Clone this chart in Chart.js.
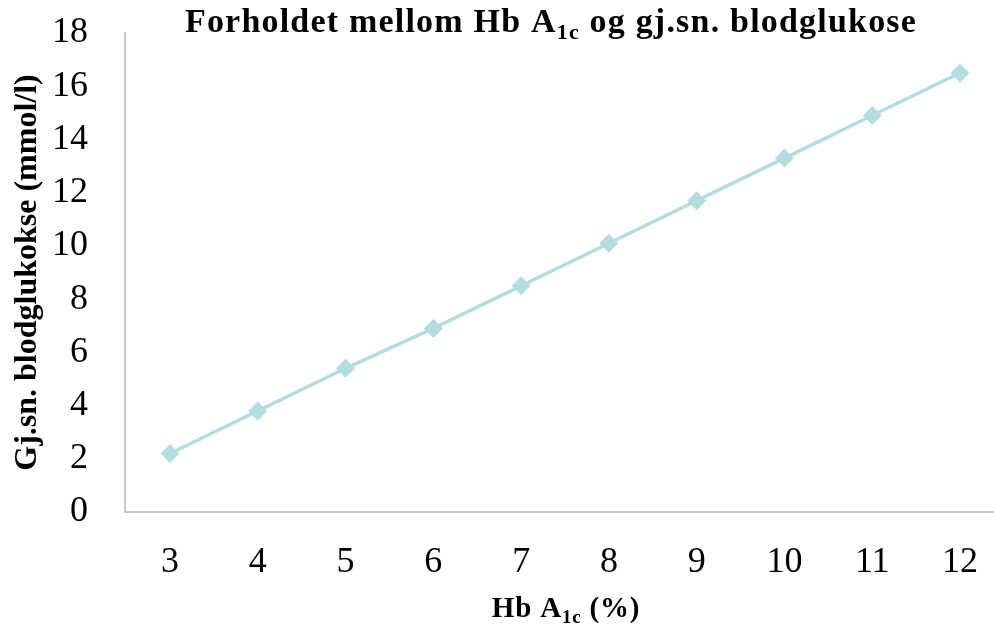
<!DOCTYPE html>
<html>
<head>
<meta charset="utf-8">
<script src="https://cdn.jsdelivr.net/npm/chart.js@4"></script>
<style>
html,body{margin:0;padding:0;background:#fff;}
#wrap{width:994px;height:629px;position:relative;}
</style>
</head>
<body>
<div id="wrap"><canvas id="c" width="994" height="629"></canvas></div>
<script>
const hbA1c = [3, 4, 5, 6, 7, 8, 9, 10, 11, 12];
const glucose = [2.2, 3.8, 5.4, 6.9, 8.5, 10.1, 11.7, 13.3, 14.9, 16.5];
const yTicks = [0, 2, 4, 6, 8, 10, 12, 14, 16, 18];
const titleParts = [["Forholdet mellom Hb A", false], ["1c", true], [" og gj.sn. blodglukose", false]];
const xTitleParts = [["Hb A", false], ["1c", true], [" (%)", false]];
const yTitle = "Gj.sn. blodglukokse (mmol/l)";

const FONT = "'Liberation Serif', 'Times New Roman', serif";
const X_MIN = 2.487, X_MAX = 12.376;

function drawParts(ctx, parts, cx, cy, size, spacing) {
  const subSize = Math.round(size * 0.65);
  ctx.letterSpacing = spacing + "px";
  let total = 0;
  const w = parts.map(([t, sub]) => {
    ctx.font = "bold " + (sub ? subSize : size) + "px " + FONT;
    const m = ctx.measureText(t).width;
    total += m;
    return m;
  });
  let x = cx - total / 2;
  ctx.textBaseline = "alphabetic";
  ctx.textAlign = "left";
  ctx.fillStyle = "#000";
  parts.forEach(([t, sub], i) => {
    ctx.font = "bold " + (sub ? subSize : size) + "px " + FONT;
    ctx.fillText(t, x, cy + (sub ? size * 0.2 : 0));
    x += w[i];
  });
  ctx.letterSpacing = "0px";
}

const textPlugin = {
  id: 'richText',
  afterDraw(chart) {
    const ctx = chart.ctx;
    ctx.save();
    drawParts(ctx, titleParts, 551, 32, 34, 1.2);
    drawParts(ctx, xTitleParts, 566, 617, 29, 0.8);
    ctx.restore();
  }
};

new Chart(document.getElementById('c'), {
  type: 'line',
  data: {
    datasets: [{
      data: hbA1c.map((x, i) => ({x: x, y: glucose[i]})),
      borderColor: '#b3dde0',
      backgroundColor: '#b3dde0',
      borderWidth: 3.5,
      pointStyle: 'rectRot',
      pointRadius: 9.5,
      pointHoverRadius: 9.5,
      pointBorderWidth: 0,
      pointBackgroundColor: '#b3dde0',
      clip: false,
      tension: 0
    }]
  },
  options: {
    responsive: false,
    animation: false,
    layout: {autoPadding: false, padding: {top: 33, right: 1, left: 0, bottom: 0}},
    plugins: {legend: {display: false}, tooltip: {enabled: false}, title: {display: false}},
    scales: {
      x: {
        type: 'linear',
        bounds: 'data',
        min: X_MIN,
        max: X_MAX,
        afterBuildTicks(s) { s.min = X_MIN; s.max = X_MAX; s.ticks = hbA1c.map(v => ({value: v})); },
        afterFit(s) { s.height = 117; s.paddingLeft = 0; s.paddingRight = 0; },
        grid: {display: false, drawTicks: false},
        border: {display: true, color: '#c8c8c8', width: 2},
        ticks: {color: '#000', padding: 29, font: {family: FONT, size: 36}, autoSkip: false, maxRotation: 0}
      },
      y: {
        min: 0,
        max: 18,
        afterBuildTicks(s) { s.min = 0; s.max = 18; s.ticks = yTicks.map(v => ({value: v})); },
        afterFit(s) { s.width = 125; s.paddingTop = 0; s.paddingBottom = 0; },
        grid: {display: false, drawTicks: false},
        border: {display: true, color: '#c8c8c8', width: 2},
        ticks: {color: '#000', padding: 37, font: {family: FONT, size: 36}},
        title: {display: true, text: yTitle, color: '#000', padding: {top: 9}, font: {family: FONT, size: 32, weight: 'bold'}}
      }
    }
  },
  plugins: [textPlugin]
});
</script>
</body>
</html>
